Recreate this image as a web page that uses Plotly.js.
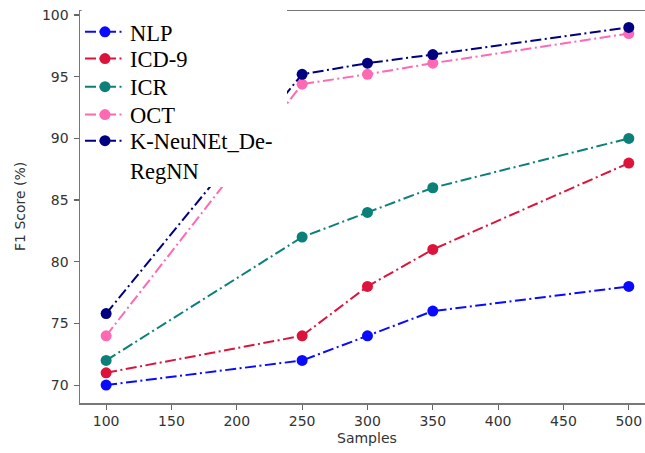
<!DOCTYPE html>
<html><head><meta charset="utf-8">
<script src="https://cdn.plot.ly/plotly-3.0.1.min.js"></script>
<style>html,body{margin:0;padding:0;background:#fff}</style>
</head><body><div id="chart" style="width:645px;height:453px"></div>
<script>
const samples = [100, 250, 300, 350, 500];
const seriesNames = ["NLP", "ICD-9", "ICR", "OCT", "K-NeuNEt_De-<br>RegNN"];
const nlp = [70, 72, 74, 76, 78];
const icd9 = [71, 74, 78, 81, 88];
const icr = [72, 82, 84, 86, 90];
const oct = [74, 94.4, 95.2, 96.1, 98.5];
const kneu = [75.8, 95.2, 96.1, 96.8, 99.0];
const xTicks = [100, 150, 200, 250, 300, 350, 400, 450, 500];
const yTicks = [70, 75, 80, 85, 90, 95, 100];
const xTitle = "Samples";
const yTitle = "F1 Score (%)";

const seriesValues = [nlp, icd9, icr, oct, kneu];
const colors = ["#0a0aff", "#dc143c", "#0b8078", "#ff69b4", "#000080"];
const legendY = [0.946, 0.8776, 0.806, 0.7347, 0.723];
const legendIds = ["legend", "legend2", "legend3", "legend4", "legend5"];

const traces = seriesValues.map((vals, i) => ({
  type: "scatter", mode: "lines+markers",
  x: samples, y: vals, name: seriesNames[i],
  legend: legendIds[i],
  line: {color: colors[i], width: 2, dash: "11px,3.5px,2px,3.5px"},
  marker: {color: colors[i], size: 11}
}));

const layout = {
  width: 645, height: 453,
  showlegend: true,
  margin: {l: 80, r: 0, t: 11, b: 50, pad: 0},
  paper_bgcolor: "#fff", plot_bgcolor: "#fff",
  font: {family: "DejaVu Sans", size: 14, color: "#333"},
  xaxis: {
    range: [80, 512.4], tickvals: xTicks, ticktext: xTicks.map(String),
    showgrid: false, zeroline: false, showline: true, mirror: true,
    linecolor: "#777", linewidth: 1.5, ticks: "outside", ticklen: 5,
    tickwidth: 1.2, tickcolor: "#666", tickfont: {size: 14, color: "#333"}
  },
  yaxis: {
    range: [68.55, 100.33], tickvals: yTicks, ticktext: yTicks.map(String),
    showgrid: false, zeroline: false, showline: true, mirror: false,
    linecolor: "#777", linewidth: 1.5, ticks: "outside", ticklen: 5,
    tickwidth: 1.2, tickcolor: "#666", tickfont: {size: 14, color: "#333"},
    ticklabelstandoff: 2
  },
  shapes: [{
    type: "rect", xref: "paper", yref: "paper", layer: "above",
    x0: 0.003, x1: 0.3664, y0: 0.551, y1: 1.04,
    fillcolor: "#fff", line: {width: 0}
  }],
  annotations: [
    {text: xTitle, xref: "paper", yref: "paper", x: 0.508, y: -0.0893,
     xanchor: "center", yanchor: "middle", showarrow: false,
     font: {family: "DejaVu Sans", size: 14, color: "#333"}},
    {text: yTitle, xref: "paper", yref: "paper", x: -0.1062, y: 0.5026,
     xanchor: "center", yanchor: "middle", showarrow: false, textangle: -90,
     font: {family: "DejaVu Sans", size: 14, color: "#333"}}
  ]
};
legendIds.forEach((id, i) => {
  layout[id] = {
    visible: true,
    x: 0, xanchor: "left", y: legendY[i], yanchor: i === 4 ? "top" : "middle",
    bgcolor: "rgba(0,0,0,0)", borderwidth: 0, itemwidth: 40, valign: "top",
    font: {family: "Liberation Serif", size: 22.5, color: "#000"}
  };
});

Plotly.newPlot("chart", traces, layout, {displayModeBar: false, staticPlot: true});
</script></body></html>
